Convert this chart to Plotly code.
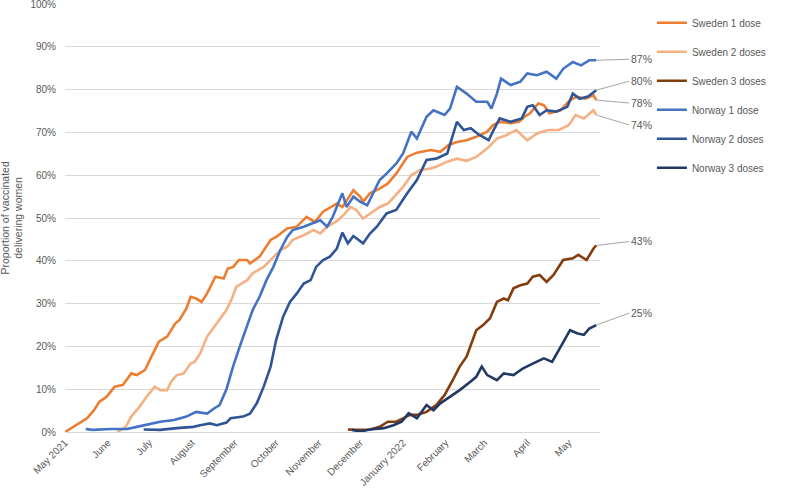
import pandas as pd
import plotly.graph_objects as go

BASE = pd.Timestamp("2021-05-01")

# Days since 1 May 2021 and proportion (%) of vaccinated delivering women
se1_days = [0,16,21,25,30,36,42,48,52,58,62,68,74,80,83,88,91,95,99,103,109,115,118,122,126,132,134,141,149,153,161,168,175,181,187,197,201,209,214,216,221,228,234,240,248,255,265,272,278,284,291,298,306,310,315,323,329,333,337,343,347,351,359,366,371,377,383,385]
se1_vals = [0,3.2,5.1,7.1,8.2,10.6,11.0,13.7,13.3,14.5,17.2,21.1,22.3,25.4,26.2,28.9,31.6,31.2,30.4,32.4,36.3,35.9,38.2,38.6,40.2,40.2,39.4,41.0,44.9,45.6,47.6,48.0,50.3,49.1,51.5,53.4,52.6,56.5,55.0,53.8,55.8,56.9,58.1,60.4,64.3,65.3,65.9,65.5,67.1,67.8,68.2,69.0,70.2,71.7,72.5,72.2,72.5,73.7,74.5,76.8,76.4,74.5,75.2,77.6,78.4,77.9,78.7,77.6]

se2_days = [38,44,48,54,59,65,69,74,77,81,86,91,94,98,103,108,112,117,121,124,132,136,144,151,156,161,165,173,180,185,190,197,203,207,211,216,221,228,234,240,245,251,257,265,269,277,284,291,298,306,313,320,327,335,342,350,358,365,370,376,383,385]
se2_vals = [0,1.2,3.6,5.9,8.2,10.6,9.8,9.8,11.8,13.3,13.7,16.0,16.4,18.4,22.3,24.6,26.2,28.5,31.2,33.9,35.5,37.1,38.6,41.0,42.5,43.3,44.9,46.0,47.2,46.4,48.0,49.3,51.1,52.6,51.9,49.9,51.1,52.6,53.4,55.4,57.3,60.0,61.2,61.6,62.0,63.2,63.9,63.4,64.3,66.3,68.6,69.4,70.6,68.2,69.8,70.6,70.6,71.7,74.1,73.3,75.2,74.1]

se3_days = [205,211,221,228,234,240,245,250,255,262,269,275,281,286,291,295,298,303,308,313,318,321,325,330,335,339,344,349,354,361,368,372,378,383,385]
se3_vals = [0.6,0.5,0.6,1.2,2.4,2.4,3.2,4.0,4.0,4.7,6.3,8.6,12.1,15.3,17.6,21.1,23.8,25.0,26.6,30.4,31.2,30.8,33.6,34.3,34.7,36.3,36.7,35.1,36.7,40.2,40.6,41.4,40.2,42.9,43.6]

no1_days = [15,20,33,45,52,62,69,79,88,95,103,108,112,117,122,127,132,136,141,146,151,156,161,165,173,180,185,190,194,201,204,209,214,219,223,228,233,240,245,251,255,262,267,275,279,284,291,298,306,309,313,316,323,330,335,342,349,356,361,368,374,380,385]
no1_vals = [0.7,0.5,0.7,0.7,1.2,2.0,2.4,2.8,3.6,4.7,4.3,5.5,6.3,10.0,15.5,20.3,24.6,28.5,31.6,35.5,38.6,42.5,45.6,47.2,48.0,48.8,49.5,48.0,50.3,55.8,52.6,55.0,53.8,53.0,55.8,58.9,60.4,62.7,65.1,70.2,68.6,73.7,75.2,74.1,75.6,80.7,79.1,77.2,77.2,75.6,79.1,82.6,81.1,81.9,83.8,83.4,84.2,82.6,84.9,86.5,85.7,86.9,86.9]

no2_days = [57,69,81,93,98,105,110,117,120,129,134,139,144,149,153,158,163,168,173,178,182,187,192,197,201,205,209,216,221,226,233,240,248,255,262,269,277,284,289,294,300,307,310,315,323,331,335,339,344,349,356,364,368,373,379,385]
no2_vals = [0.6,0.5,0.9,1.2,1.6,2.0,1.6,2.2,3.2,3.6,4.3,6.7,10.6,15.3,21.5,26.9,30.4,32.4,34.7,35.5,38.6,40.2,41.0,42.9,46.6,44.1,45.8,44.1,46.4,48.0,51.1,51.9,55.8,58.9,63.6,63.9,65.1,72.5,70.6,71.0,69.5,68.2,70.2,73.3,72.5,73.3,76.0,76.4,74.1,75.2,74.9,76.0,79.1,77.9,78.4,79.9]

no3_days = [208,214,221,231,238,244,249,255,262,267,272,279,286,294,298,302,306,313,318,325,332,339,347,353,359,366,371,376,380,385]
no3_vals = [0.5,0.1,0.6,0.9,1.6,2.4,4.4,3.2,6.3,5.1,6.7,8.2,9.8,11.8,12.9,15.3,13.3,12.1,13.7,13.3,14.9,16.0,17.2,16.4,19.9,23.8,23.1,22.7,24.2,25.0]

series_names = ["Sweden 1 dose", "Sweden 2 doses", "Sweden 3 doses",
                "Norway 1 dose", "Norway 2 doses", "Norway 3 doses"]
end_labels = ["78%", "74%", "43%", "87%", "80%", "25%"]

tick_dates = ["2021-05-01","2021-06-01","2021-07-01","2021-08-01","2021-09-01","2021-10-01",
              "2021-11-01","2021-12-01","2022-01-01","2022-02-01","2022-03-01","2022-04-01","2022-05-01"]
tick_labels = ["May 2021","June","July","August","September","October","November",
               "December","January 2022","February","March","April","May"]

colors = ["#ED7D31", "#F4B183", "#843C0C", "#4472C4", "#2F5597", "#1F3864"]
label_offsets = [(33, 3), (33, 10), (33, -4), (33, -1), (33, -9), (33, -12)]

all_days = [se1_days, se2_days, se3_days, no1_days, no2_days, no3_days]
all_vals = [se1_vals, se2_vals, se3_vals, no1_vals, no2_vals, no3_vals]

FONT = "Liberation Sans"
GREY = "#595959"

fig = go.Figure()
annotations = []
for i, (name, d, v) in enumerate(zip(series_names, all_days, all_vals)):
    x = BASE + pd.to_timedelta(d, unit="D")
    y = [val / 100 for val in v]
    fig.add_trace(go.Scatter(x=x, y=y, mode="lines", name=name, legendgroup=name,
                             line=dict(color=colors[i], width=2.6)))
    ax, ay = label_offsets[i]
    annotations.append(dict(x=x[-1], y=y[-1], xref="x", yref="y", text=end_labels[i],
                            showarrow=True, arrowhead=0, arrowwidth=1, arrowcolor="#A6A6A6",
                            ax=ax, ay=ay, xanchor="left", yanchor="middle",
                            font=dict(family=FONT, size=10.5, color=GREY)))

annotations.append(dict(text="Proportion of vaccinated<br>delivering women", textangle=-90,
                        xref="paper", yref="paper", x=-0.1, y=0.5, showarrow=False,
                        xanchor="center", yanchor="middle",
                        font=dict(family=FONT, size=10.5, color=GREY)))

fig.update_layout(
    width=787, height=488,
    margin=dict(l=65, r=187, t=4, b=56),
    plot_bgcolor="white", paper_bgcolor="white",
    font=dict(family=FONT, size=10, color=GREY),
    showlegend=True,
    legend=dict(x=1.097, y=0.99, xanchor="left", yanchor="top", tracegroupgap=10,
                font=dict(family=FONT, size=10, color=GREY), bgcolor="rgba(0,0,0,0)"),
    annotations=annotations,
)
fig.update_xaxes(type="date", range=[BASE, BASE + pd.Timedelta(days=387.7)],
                 tickvals=tick_dates, ticktext=tick_labels, tickangle=-45,
                 showgrid=False, showline=True, linecolor="#D9D9D9", linewidth=1,
                 ticks="", automargin=False, tickfont=dict(family=FONT, size=10, color=GREY))
fig.update_yaxes(range=[0, 1.0005], tickvals=[i / 10 for i in range(11)], tickformat=".0%",
                 showgrid=True, gridcolor="#D9D9D9", ticklabeloverflow="allow",
                 gridwidth=1, zeroline=False, ticks="", automargin=False, ticklabelstandoff=8,
                 tickfont=dict(family=FONT, size=10, color=GREY))

fig.write_html("out.html", config={"displayModeBar": False},
               post_script="document.body.style.margin='0';")
